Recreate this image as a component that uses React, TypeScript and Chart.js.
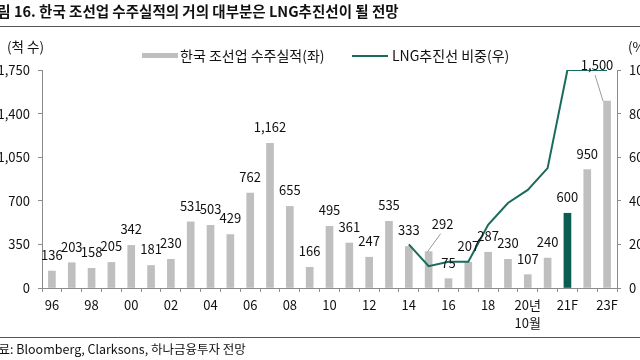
import React, { useEffect, useRef } from "react";
import { Chart, registerables } from "chart.js";

Chart.register(...registerables);

const FONT = '"Noto Sans CJK KR", "Noto Sans", sans-serif';

const categories: (string | string[])[] = [
  "96", "97", "98", "99", "00", "01", "02", "03", "04", "05",
  "06", "07", "08", "09", "10", "11", "12", "13", "14", "15",
  "16", "17", "18", "19", ["20년", "10월"], "20F", "21F", "22F", "23F",
];

const orders = [
  136, 203, 158, 205, 342, 181, 230, 531, 503, 429,
  762, 1162, 655, 166, 495, 361, 247, 535, 333, 292,
  75, 207, 287, 230, 107, 240, 600, 950, 1500,
];

const lngShare: (number | null)[] = [
  null, null, null, null, null, null, null, null, null, null,
  null, null, null, null, null, null, null, null, 20, 10,
  12, 12, 29, 39, 45, 55, 100, 100, 100,
];

const leftTicks = [0, 350, 700, 1050, 1400, 1750];
const rightTicks = [0, 20, 40, 60, 80, 100];

const highlightCategory = "21F";

const GREY = "#bfbfbf";
const TEAL_BAR = "#0b5e4f";
const TEAL_LINE = "#1b6b5c";

// label callouts (offset from bar top) for labels drawn with leader lines
const callouts: Record<number, { dx: number; dy: number }> = {
  19: { dx: 14, dy: -28 },
  28: { dx: -10, dy: -36 },
};

const labelPlugin = {
  id: "barLabels",
  afterDatasetsDraw(chart: any) {
    const meta = chart.getDatasetMeta(1);
    const ctx = chart.ctx as CanvasRenderingContext2D;
    ctx.save();
    ctx.font = `13px ${FONT}`;
    ctx.fillStyle = "#111";
    ctx.textAlign = "center";
    ctx.textBaseline = "middle";
    meta.data.forEach((bar: any, i: number) => {
      const text = orders[i].toLocaleString("en-US");
      const c = callouts[i];
      let x = bar.x;
      let y = bar.y - 16;
      if (c) {
        x = bar.x + c.dx;
        y = bar.y + c.dy;
        ctx.strokeStyle = "#9a9a9a";
        ctx.lineWidth = 1;
        ctx.beginPath();
        ctx.moveTo(x - 2, y + 10);
        ctx.lineTo(bar.x + (c.dx > 0 ? -1 : -4), bar.y);
        ctx.stroke();
      }
      ctx.fillText(text, x, y);
    });
    ctx.restore();
  },
};

export default function App() {
  const ref = useRef<HTMLCanvasElement | null>(null);

  useEffect(() => {
    if (!ref.current) return;
    const labels = categories;
    const chart = new Chart(ref.current, {
      type: "bar",
      data: {
        labels,
        datasets: [
          {
            type: "line",
            label: "LNG추진선 비중(우)",
            data: lngShare,
            yAxisID: "yR",
            borderColor: TEAL_LINE,
            borderWidth: 2,
            pointRadius: 0,
            tension: 0,
            order: 0,
          } as any,
          {
            type: "bar",
            label: "한국 조선업 수주실적(좌)",
            data: orders,
            yAxisID: "yL",
            backgroundColor: labels.map((l) =>
              l === highlightCategory ? TEAL_BAR : GREY
            ),
            barThickness: 7,
            order: 1,
          },
        ],
      },
      options: {
        responsive: false,
        animation: false,
        layout: { padding: { top: 70, left: 0, right: 0, bottom: 0 } },
        plugins: {
          legend: { display: false },
          tooltip: { enabled: false },
        },
        scales: {
          x: {
            offset: true,
            grid: {
              offset: true,
              drawOnChartArea: false,
              drawTicks: true,
              tickLength: 4,
              color: "#8c8c8c",
            },
            border: { color: "#8c8c8c", width: 1 },
            ticks: {
              autoSkip: false,
              maxRotation: 0,
              padding: 4,
              color: "#111",
              font: { family: FONT, size: 13, lineHeight: 1.4 },
              callback: (_v: any, i: number) =>
                i % 2 === 0 ? (categories[i] as any) : "",
            },
            afterFit: (s: any) => {
              s.height = 72;
            },
          },
          yL: {
            position: "left",
            min: leftTicks[0],
            max: leftTicks[leftTicks.length - 1],
            afterBuildTicks: (s: any) => {
              s.ticks = leftTicks.map((v) => ({ value: v }));
            },
            grid: {
              drawOnChartArea: false,
              drawTicks: true,
              tickLength: 4,
              color: "#8c8c8c",
            },
            border: { color: "#8c8c8c", width: 1 },
            ticks: {
              padding: 8,
              color: "#111",
              font: { family: FONT, size: 13 },
              callback: (v: any) => Number(v).toLocaleString("en-US"),
            },
            afterFit: (s: any) => {
              s.width = 42;
            },
          },
          yR: {
            position: "right",
            min: rightTicks[0],
            max: rightTicks[rightTicks.length - 1],
            afterBuildTicks: (s: any) => {
              s.ticks = rightTicks.map((v) => ({ value: v }));
            },
            grid: {
              drawOnChartArea: false,
              drawTicks: true,
              tickLength: 4,
              color: "#8c8c8c",
            },
            border: { color: "#8c8c8c", width: 1 },
            ticks: {
              padding: 8,
              color: "#111",
              font: { family: FONT, size: 13 },
            },
            afterFit: (s: any) => {
              s.width = 23;
            },
          },
        },
      },
      plugins: [labelPlugin],
    });
    return () => chart.destroy();
  }, []);

  const abs = (o: React.CSSProperties): React.CSSProperties => ({
    position: "absolute",
    whiteSpace: "nowrap",
    ...o,
  });

  return (
    <div
      style={{
        position: "fixed",
        left: 0,
        top: 0,
        width: 640,
        height: 360,
        overflow: "hidden",
        background: "#fff",
        fontFamily: FONT,
        color: "#111",
      }}
    >
      <canvas
        ref={ref}
        width={640}
        height={360}
        style={{ position: "absolute", left: 0, top: 0, width: 640, height: 360 }}
      />
      <div style={abs({ left: -16, top: 1, fontSize: 14.5, fontWeight: 700, lineHeight: "20px" })}>
        그림 16. 한국 조선업 수주실적의 거의 대부분은 LNG추진선이 될 전망
      </div>
      <div style={abs({ left: 0, top: 26, width: 640, height: 1, background: "#555" })} />
      <div style={abs({ left: 7, top: 37, fontSize: 13.5, lineHeight: "18px" })}>(척 수)</div>
      <div style={abs({ left: 628, top: 37, fontSize: 13.5, lineHeight: "18px" })}>(%)</div>
      <div style={abs({ left: 142, top: 53, width: 36, height: 5, background: GREY })} />
      <div style={abs({ left: 180, top: 46, fontSize: 14, lineHeight: "18px" })}>
        한국 조선업 수주실적(좌)
      </div>
      <div style={abs({ left: 352, top: 55, width: 36, height: 2, background: TEAL_LINE })} />
      <div style={abs({ left: 392, top: 46, fontSize: 14, lineHeight: "18px" })}>
        LNG추진선 비중(우)
      </div>
      <div style={abs({ left: 0, top: 337, width: 640, height: 1, background: "#555" })} />
      <div style={abs({ left: -13, top: 340, fontSize: 12.5, lineHeight: "18px" })}>
        자료: Bloomberg, Clarksons, 하나금융투자 전망
      </div>
    </div>
  );
}
